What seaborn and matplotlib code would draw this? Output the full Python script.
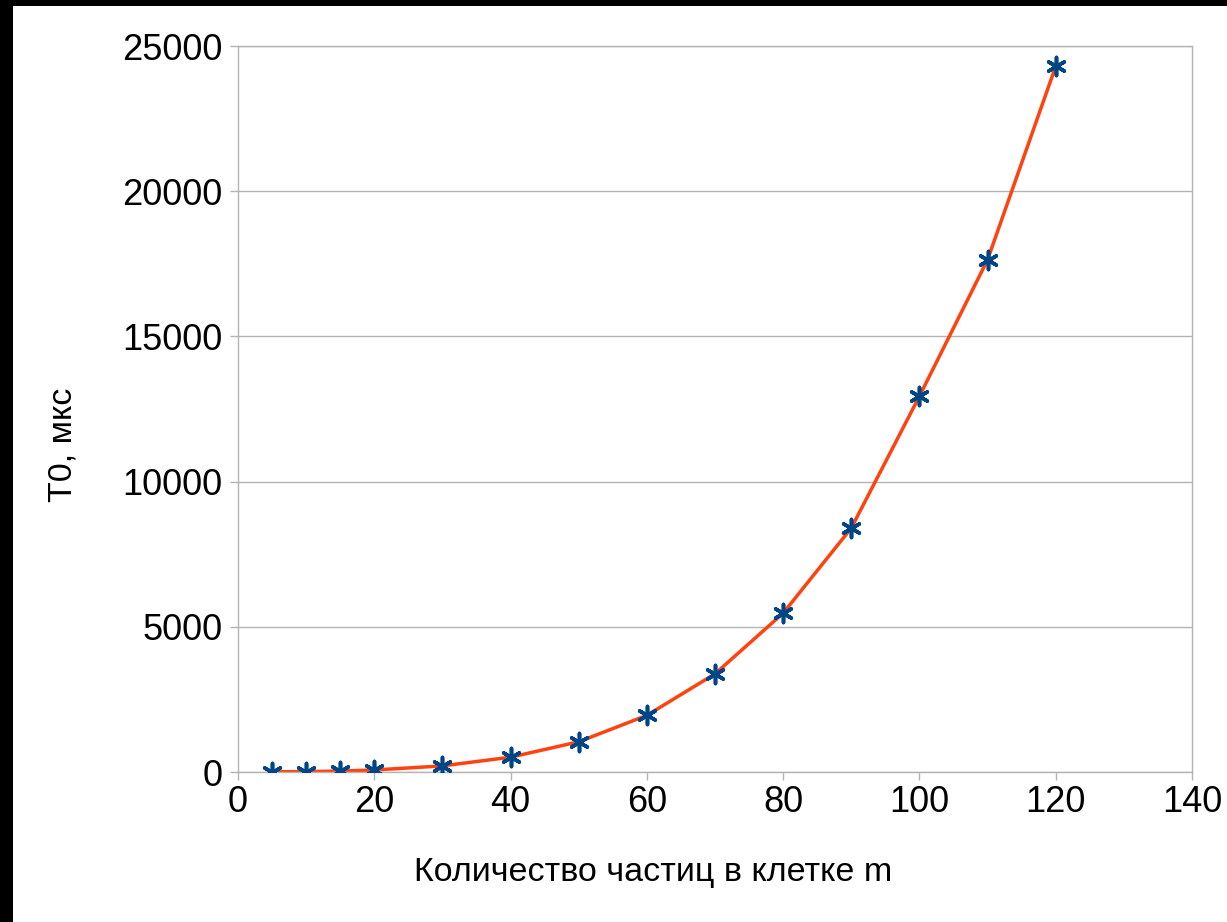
import matplotlib
matplotlib.use("Agg")
import matplotlib.pyplot as plt
from matplotlib.patches import Rectangle
import seaborn as sns
import pandas as pd

# Data
m_values = [5, 10, 15, 20, 30, 40, 50, 60, 70, 80, 90, 100, 110, 120]
t0_values = [5, 15, 30, 70, 210, 510, 1040, 1950, 3380, 5470, 8400, 12940, 17640, 24300]
x_ticks = [0, 20, 40, 60, 80, 100, 120, 140]
y_ticks = [0, 5000, 10000, 15000, 20000, 25000]
x_label = "Количество частиц в клетке m"
y_label = "T0, мкс"

df = pd.DataFrame({"m": m_values, "t0": t0_values})

sns.set_theme(style="white")
plt.rcParams["font.family"] = ["Liberation Sans", "DejaVu Sans"]

W, H = 1227, 922
fig = plt.figure(figsize=(W / 100, H / 100), dpi=100)
fig.patch.set_facecolor("black")
fig.patches.append(Rectangle((13 / W, 0), 1 - 13 / W, 1 - 6 / H,
                             transform=fig.transFigure, facecolor="white",
                             edgecolor="none", zorder=-10))

ax = fig.add_axes([238 / W, 1 - 772 / H, (1192 - 238) / W, (772 - 46) / H])
ax.set_facecolor("white")
ax.set_zorder(5)

sns.lineplot(data=df, x="m", y="t0", ax=ax, color="#ff420e", linewidth=2.5,
             zorder=2, legend=False)
sns.scatterplot(data=df, x="m", y="t0", ax=ax, marker=(6, 2, 0), s=170,
                color="#004586", linewidth=2.6, zorder=3, legend=False)

ax.set_xlim(0, 140)
ax.set_ylim(0, 25000)
ax.set_xticks(x_ticks)
ax.set_yticks(y_ticks)
ax.set_xticklabels([str(v) for v in x_ticks])
ax.set_yticklabels([str(v) for v in y_ticks])

ax.yaxis.grid(True, color="#b3b3b3", linewidth=1.0)
ax.xaxis.grid(False)
ax.set_axisbelow(True)
for s in ax.spines.values():
    s.set_visible(True)
    s.set_color("#b3b3b3")
    s.set_linewidth(1.0)

ax.tick_params(axis="both", which="major", length=6, width=1.0, color="#b3b3b3",
               labelsize=26, labelcolor="black", direction="out",
               bottom=True, left=True)
ax.tick_params(axis="x", pad=3)
ax.tick_params(axis="y", pad=5)

ax.set_xlabel(x_label, fontsize=24.5, color="black")
ax.set_ylabel(y_label, fontsize=24.5, color="black")
ax.xaxis.set_label_coords(0.435, -0.139)
ax.yaxis.set_label_coords(-0.183, 0.45)
ax.xaxis.label.set_va("center")
ax.yaxis.label.set_va("center")

fig.savefig("out.png", dpi=100, facecolor=fig.get_facecolor())
